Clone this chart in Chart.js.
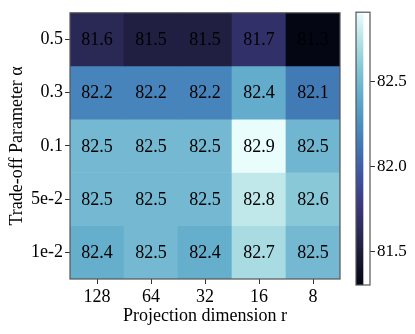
<!DOCTYPE html>
<html>
<head>
<meta charset="utf-8">
<script src="https://cdn.jsdelivr.net/npm/chart.js@4"></script>
<style>
  body { margin: 0; background: #fff; }
  #wrap { position: relative; width: 415px; height: 334px; }
  canvas { position: absolute; left: 0; top: 0; }
</style>
</head>
<body>
<div id="wrap">
  <canvas id="heat" width="415" height="334"></canvas>
  <canvas id="cbar" width="415" height="334"></canvas>
</div>
<script>
// columns (x) and rows (y, top to bottom)
const dims = ['128', '64', '32', '16', '8'];
const alphas = ['0.5', '0.3', '0.1', '5e-2', '1e-2'];

// accuracy per row, one value per projection dimension
const row05 = [81.60, 81.52, 81.52, 81.68, 81.30];
const row03 = [82.19, 82.19, 82.19, 82.42, 82.13];
const row01 = [82.50, 82.50, 82.50, 82.91, 82.48];
const row5e2 = [82.50, 82.50, 82.50, 82.78, 82.59];
const row1e2 = [82.43, 82.50, 82.43, 82.70, 82.50];
const rows = [row05, row03, row01, row5e2, row1e2];

const cbarTicks = [81.5, 82.0, 82.5];

const vmin = Math.min(...rows.flat());
const vmax = Math.max(...rows.flat());

// ice-like colormap, dark -> white
const cmap = [
  [0.00, [4, 6, 19]],
  [0.10, [25, 24, 50]],
  [0.20, [45, 42, 90]],
  [0.30, [60, 58, 128]],
  [0.40, [63, 84, 160]],
  [0.50, [64, 117, 180]],
  [0.60, [78, 146, 193]],
  [0.70, [100, 173, 204]],
  [0.80, [135, 200, 215]],
  [0.90, [182, 227, 231]],
  [1.00, [234, 253, 253]]
];

function colorAt(v) {
  let t = (v - vmin) / (vmax - vmin);
  t = Math.max(0, Math.min(1, t));
  for (let i = 1; i < cmap.length; i++) {
    if (t <= cmap[i][0]) {
      const [t0, c0] = cmap[i - 1];
      const [t1, c1] = cmap[i];
      const f = (t - t0) / (t1 - t0);
      const c = c0.map((a, k) => Math.round(a + (c1[k] - a) * f));
      return `rgb(${c[0]},${c[1]},${c[2]})`;
    }
  }
  return 'rgb(234,253,253)';
}

const serif = 'Liberation Serif';
const font18 = { family: serif, size: 18 };
const frameColor = '#555';

// draw a box around the plot area
const framePlugin = {
  id: 'frame',
  afterDraw(chart) {
    const { ctx, chartArea: a } = chart;
    ctx.save();
    ctx.strokeStyle = frameColor;
    ctx.lineWidth = 1.2;
    ctx.strokeRect(a.left, a.top, a.right - a.left, a.bottom - a.top);
    ctx.restore();
  }
};

// cell labels
const labelPlugin = {
  id: 'cellLabels',
  afterDatasetsDraw(chart) {
    const ctx = chart.ctx;
    ctx.save();
    ctx.fillStyle = '#000';
    ctx.font = `18px "${serif}"`;
    ctx.textAlign = 'center';
    ctx.textBaseline = 'middle';
    chart.data.datasets.forEach((ds, di) => {
      const meta = chart.getDatasetMeta(di);
      meta.data.forEach((bar, i) => {
        const yMid = chart.scales.y.getPixelForValue(di);
        ctx.fillText(rows[di][i].toFixed(1), bar.x, yMid + 1);
      });
    });
    ctx.restore();
  }
};

new Chart(document.getElementById('heat'), {
  type: 'bar',
  data: {
    labels: dims,
    datasets: rows.map((vals, r) => ({
      label: alphas[r],
      data: vals.map(() => [r - 0.5, r + 0.5]),
      backgroundColor: vals.map(colorAt),
      borderWidth: 0,
      barPercentage: 1,
      categoryPercentage: 1,
      grouped: false
    }))
  },
  options: {
    responsive: false,
    devicePixelRatio: 1,
    animation: false,
    layout: { padding: { top: 9, right: 75, left: 0, bottom: 0 } },
    plugins: { legend: { display: false }, tooltip: { enabled: false } },
    scales: {
      x: {
        type: 'category',
        offset: true,
        grid: { display: true, drawOnChartArea: false, offset: false, tickLength: 5, color: '#333' },
        border: { display: false },
        ticks: { color: '#000', font: font18, padding: 2, maxRotation: 0 },
        title: { display: true, text: 'Projection dimension r', color: '#000', font: font18, padding: { top: 0, bottom: 7 } },
        afterFit: s => { s.height = 55; }
      },
      y: {
        type: 'linear',
        min: -0.5,
        max: 4.5,
        reverse: true,
        afterBuildTicks: s => { s.ticks = alphas.map((a, i) => ({ value: i })); },
        grid: { display: true, drawOnChartArea: false, tickLength: 5, color: '#333' },
        border: { display: false },
        ticks: { color: '#000', font: font18, padding: 2, callback: v => alphas[v] },
        title: { display: true, text: 'Trade-off Parameter α', color: '#000', font: font18, padding: { top: 6, bottom: 0 } },
        afterFit: s => { s.width = 70; }
      }
    }
  },
  plugins: [labelPlugin, framePlugin]
});

// colorbar
new Chart(document.getElementById('cbar'), {
  type: 'bar',
  data: {
    labels: [''],
    datasets: [{
      data: [[vmin, vmax]],
      borderWidth: 0,
      barPercentage: 1,
      categoryPercentage: 1,
      backgroundColor: ctx => {
        const chart = ctx.chart;
        if (!chart.chartArea) return '#000';
        const y = chart.scales.y;
        const g = chart.ctx.createLinearGradient(0, y.getPixelForValue(vmin), 0, y.getPixelForValue(vmax));
        cmap.forEach(([t, c]) => g.addColorStop(t, `rgb(${c[0]},${c[1]},${c[2]})`));
        return g;
      }
    }]
  },
  options: {
    responsive: false,
    devicePixelRatio: 1,
    animation: false,
    layout: { padding: { top: 6, left: 356, right: 0, bottom: 49 } },
    plugins: { legend: { display: false }, tooltip: { enabled: false } },
    scales: {
      x: { display: false, offset: false },
      y: {
        position: 'right',
        min: vmin,
        max: vmax,
        afterBuildTicks: s => { s.ticks = cbarTicks.map(v => ({ value: v })); },
        grid: { display: true, drawOnChartArea: false, tickLength: 5, color: '#333' },
        border: { display: false },
        ticks: { color: '#000', font: { family: serif, size: 17 }, padding: 2, callback: v => v.toFixed(1) },
        afterFit: s => { s.width = 45; }
      }
    }
  },
  plugins: [framePlugin]
});
</script>
</body>
</html>
